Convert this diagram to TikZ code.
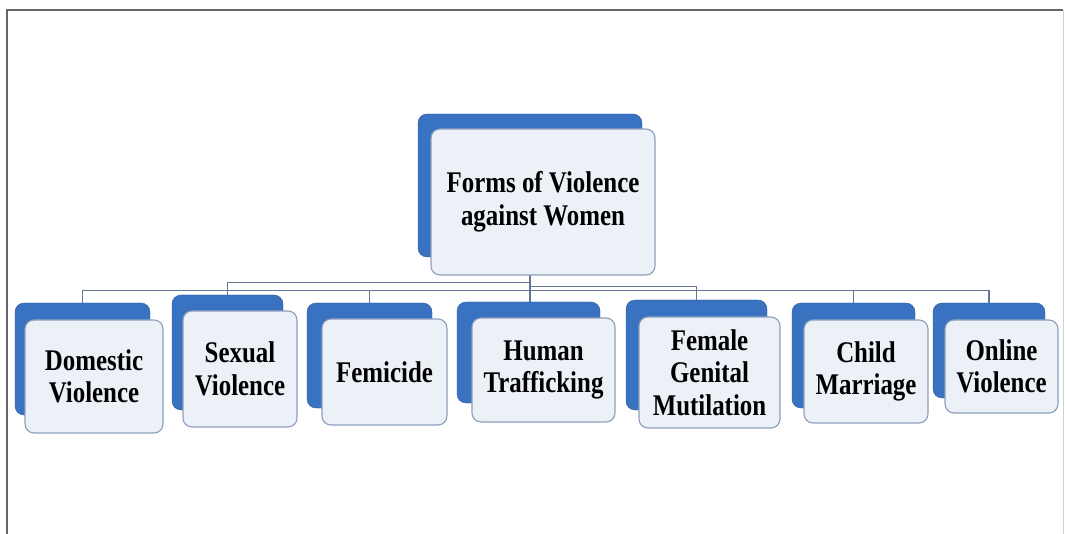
\documentclass[tikz,border=0pt]{standalone}
\usepackage{fontspec}
\setmainfont[FakeStretch=0.83]{Liberation Serif}
\usepackage{tikz}
\usepackage{xcolor}
\usetikzlibrary{positioning, calc}

\definecolor{backblue}{RGB}{56,114,192}
\definecolor{frontfill}{RGB}{236,240,247}
\definecolor{frontline}{RGB}{140,158,188}
\definecolor{linkcol}{RGB}{100,118,150}

\begin{document}
\begin{tikzpicture}[x=1pt, y=-1pt,
                back/.style={fill=backblue, draw=backblue!80!black, rounded corners=9pt},
                front/.style={fill=frontfill, draw=frontline, line width=1.1pt, rounded corners=9pt, align=center, text=black,
                              font=\bfseries\fontsize{30}{32.5}\selectfont},
                link/.style={draw=linkcol, line width=1.2pt}
            ]
                \useasboundingbox (0,0) rectangle (1065,534);

                % Frame
                \draw[gray!80!black, line width=1.3pt] (7,534) -- (7,10) -- (1063,10);
                \draw[gray!35, line width=1pt] (1063,10) -- (1063,534);

                % Back boxes
                \node[back, minimum width=224pt, minimum height=143pt] (rootb) at (530,185.5) {};
                \node[back, minimum width=135pt, minimum height=112pt] (domb) at (82.5,359) {};
                \node[back, minimum width=111pt, minimum height=115pt] (sexb) at (227.5,352.5) {};
                \node[back, minimum width=125pt, minimum height=105pt] (femb) at (369.5,355.5) {};
                \node[back, minimum width=143pt, minimum height=101pt] (humb) at (528.5,352.5) {};
                \node[back, minimum width=141pt, minimum height=110pt] (fgmb) at (696.5,355) {};
                \node[back, minimum width=123pt, minimum height=105pt] (chib) at (853.5,355.5) {};
                \node[back, minimum width=112pt, minimum height=95pt] (onlb) at (989,350.5) {};

                % Connectors
                \draw[link] (rootb.south) -- ++(0,33) -| (domb.north);
                \draw[link] (rootb.south) -- ++(0,25) -| (sexb.north);
                \draw[link] (rootb.south) -- ++(0,33) -| (femb.north);
                \draw[link] (rootb.south) -- (rootb.south |- humb.north);
                \draw[link] (rootb.south) -- ++(0,29) -| (fgmb.north);
                \draw[link] (rootb.south) -- ++(0,33) -| (chib.north);
                \draw[link] (rootb.south) -- ++(0,33) -| (onlb.north);

                % Front boxes
                \node[front, minimum width=224pt, minimum height=146pt] (root) at (543,202) {Forms of Violence\\against Women};
                \node[front, minimum width=138pt, minimum height=113pt] (dom) at (94,376.5) {Domestic\\Violence};
                \node[front, minimum width=114pt, minimum height=116pt] (sex) at (240,369) {Sexual\\Violence};
                \node[front, minimum width=125pt, minimum height=106pt] (fem) at (384.5,372) {Femicide};
                \node[front, minimum width=143pt, minimum height=104pt] (hum) at (543.5,370) {Human\\Trafficking};
                \node[front, minimum width=141pt, minimum height=111pt] (fgm) at (709.5,372.5) {Female\\Genital\\Mutilation};
                \node[front, minimum width=124pt, minimum height=103pt] (chi) at (866,371.5) {Child\\Marriage};
                \node[front, minimum width=113pt, minimum height=93pt] (onl) at (1001.5,366.5) {Online\\Violence};
            \end{tikzpicture}
\end{document}
